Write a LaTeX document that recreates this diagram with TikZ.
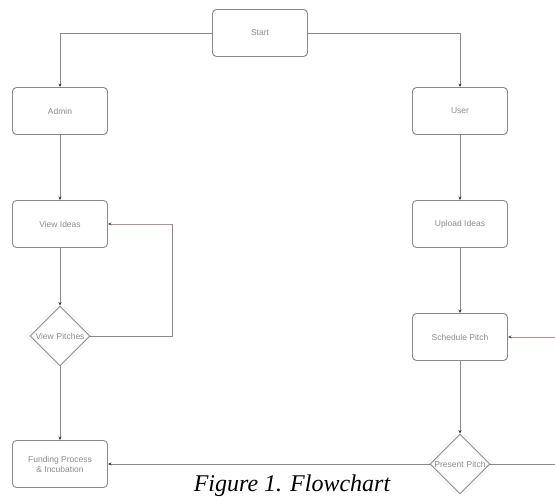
\documentclass[tikz,border=0pt]{standalone}
\usepackage{fontspec}
\setmainfont{Liberation Serif}
\newfontfamily\boxfont{Liberation Sans}
\usetikzlibrary{shapes.geometric,arrows.meta}
\definecolor{lncol}{HTML}{8A8A8A}
\definecolor{fbcol}{HTML}{B89090}
\definecolor{txtcol}{HTML}{8C8C8C}
\tikzset{
  procbox/.style={draw=lncol, line width=0.9pt, rounded corners=4pt, minimum width=95pt, minimum height=47pt, align=center, font=\boxfont\fontsize{8.5}{10}\selectfont, text=txtcol, fill=white},
  decbox/.style={draw=lncol, line width=0.9pt, diamond, minimum width=60pt, minimum height=60pt, inner sep=0pt, font=\boxfont\fontsize{8.5}{10}\selectfont, text=txtcol, fill=white, text width=10pt, align=center},
  flow/.style={draw=lncol, line width=0.8pt, -{Stealth[length=3.5pt,width=3pt,black!80]}},
  fback/.style={draw=fbcol, line width=0.6pt, -{Stealth[length=3.5pt,width=3pt,black!70]}}
}
\begin{document}
\begin{tikzpicture}[x=1pt,y=-1pt]
\useasboundingbox (0,0) rectangle (555,497);
\clip (0,0) rectangle (555,497);
\node[procbox] (start) at (260,33) {Start};
\node[procbox] (admin) at (60,111) {Admin};
\node[procbox] (user) at (460,111) {User};
\node[procbox] (viewideas) at (60,224) {View Ideas};
\node[procbox] (upload) at (460,224) {Upload Ideas};
\node[decbox] (viewpitch) at (60,336) {\makebox[10pt]{View Pitches}};
\node[procbox] (schedule) at (460,337) {Schedule Pitch};
\node[decbox] (present) at (460,464) {\makebox[10pt]{Present Pitch}};
\node[procbox] (funding) at (60,464) {Funding Process\\ \& Incubation};
\coordinate (fbA) at (172,336);
\coordinate (fbB) at (172,224);
\coordinate (outA) at (580,464);
\coordinate (outB) at (580,337);
\draw[flow] (start.west) -| (admin.north);
\draw[flow] (start.east) -| (user.north);
\draw[flow] (admin) -- (viewideas);
\draw[flow] (user) -- (upload);
\draw[flow] (viewideas) -- (viewpitch);
\draw[flow] (upload) -- (schedule);
\draw[flow] (viewpitch) -- (funding);
\draw[flow] (schedule) -- (present);
\draw[draw=lncol, line width=0.6pt] (viewpitch.east) -- (fbA) -- (fbB);
\draw[fback] (fbB) -- (viewideas.east);
\draw[flow] (present.west) -- (funding.east);
\draw[draw=lncol, line width=0.6pt] (present.east) -- (outA) -- (outB);
\draw[fback] (outB) -- (schedule.east);
\node[anchor=base, font=\fontsize{24}{28}\selectfont\itshape, inner sep=0pt] (caption) at (292,491.5) {Figure 1. Flowchart};
\end{tikzpicture}
\end{document}
